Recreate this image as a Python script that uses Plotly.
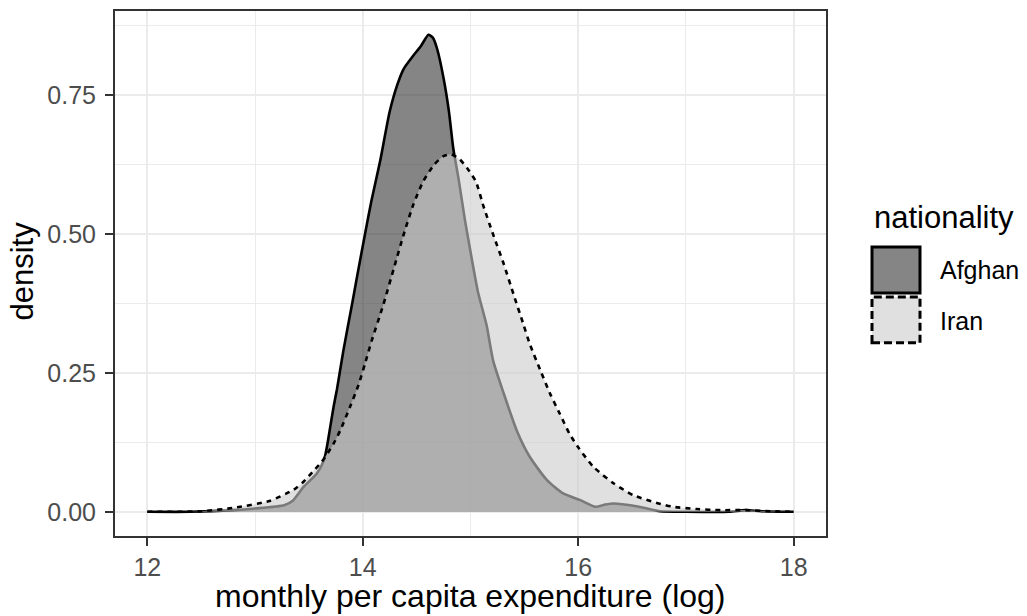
import plotly.graph_objects as go

# ---- data ----
groups = ["Afghan", "Iran"]

x_afghan = [12.00, 12.40, 12.80, 13.00, 13.27, 13.35, 13.45, 13.57, 13.64, 13.67,
            13.70, 13.73, 13.76, 13.79, 13.82, 13.90, 13.945, 14.02, 14.08, 14.16,
            14.25, 14.32, 14.38, 14.47, 14.54, 14.61, 14.65, 14.69, 14.75, 14.80,
            14.84, 14.89, 14.95, 15.01, 15.07, 15.15, 15.21, 15.31, 15.43, 15.55,
            15.71, 15.86, 16.02, 16.16, 16.25, 16.33, 16.54, 16.76, 17.00, 17.40,
            17.55, 17.70, 18.00]
d_afghan = [0.000, 0.000, 0.003, 0.006, 0.012, 0.020, 0.045, 0.068, 0.093, 0.120,
            0.155, 0.190, 0.220, 0.255, 0.290, 0.373, 0.421, 0.499, 0.559, 0.630,
            0.720, 0.768, 0.797, 0.821, 0.838, 0.858, 0.853, 0.833, 0.780, 0.720,
            0.654, 0.598, 0.523, 0.457, 0.395, 0.335, 0.272, 0.212, 0.146, 0.099,
            0.057, 0.033, 0.021, 0.009, 0.013, 0.015, 0.010, 0.001, 0.000, 0.000,
            0.003, 0.001, 0.000]

x_iran = [12.00, 12.50, 12.83, 13.14, 13.36, 13.45, 13.54, 13.62, 13.73, 13.79,
          13.88, 13.96, 14.02, 14.08, 14.19, 14.29, 14.38, 14.47, 14.56, 14.66,
          14.75, 14.82, 14.90, 14.97, 15.05, 15.12, 15.21, 15.31, 15.40, 15.49,
          15.55, 15.65, 15.74, 15.83, 15.92, 16.00, 16.14, 16.33, 16.51, 16.73,
          16.88, 17.10, 17.32, 17.56, 17.80, 18.00]
d_iran = [0.000, 0.001, 0.008, 0.020, 0.040, 0.054, 0.073, 0.090, 0.123, 0.146,
          0.188, 0.228, 0.266, 0.306, 0.372, 0.439, 0.499, 0.553, 0.594, 0.624,
          0.640, 0.643, 0.634, 0.618, 0.594, 0.550, 0.499, 0.445, 0.391, 0.338,
          0.302, 0.254, 0.212, 0.176, 0.140, 0.116, 0.081, 0.051, 0.030, 0.016,
          0.009, 0.005, 0.003, 0.003, 0.001, 0.000]

x_ticks = [12, 14, 16, 18]
x_tick_labels = ["12", "14", "16", "18"]
x_minor = [13, 15, 17]
y_ticks = [0, 0.25, 0.5, 0.75]
y_tick_labels = ["0.00", "0.25", "0.50", "0.75"]
y_minor = [0.125, 0.375, 0.625, 0.875]

x_title = "monthly per capita expenditure (log)"
y_title = "density"
legend_title = "nationality"

# ---- layout geometry (pixels) ----
W, H = 1027, 616
L, R, T, B = 115, 826, 9, 536
FONT = "Liberation Sans, Arial, Helvetica, sans-serif"


def px(x):
    return (x - L) / (R - L)


def py(y):
    return (B - y) / (B - T)


fills = ["rgba(51,51,51,0.6)", "rgba(204,204,204,0.6)"]
dashes = ["solid", "5px,5px"]

fig = go.Figure()
for name, xs, ds, fc, dsh in zip(groups, [x_afghan, x_iran], [d_afghan, d_iran], fills, dashes):
    fig.add_trace(go.Scatter(
        x=xs, y=ds, mode="lines", fill="tozeroy", fillcolor=fc,
        line=dict(color="black", width=2.6, dash=dsh, shape="spline", smoothing=0.6),
        name=name, showlegend=False, hoverinfo="skip"))

axis_common = dict(
    ticks="outside", ticklen=8, tickwidth=2, tickcolor="#333333",
    tickfont=dict(family=FONT, size=25, color="#4D4D4D"),
    showline=True, mirror=True, linecolor="#333333", linewidth=2,
    showgrid=True, gridcolor="#EBEBEB", gridwidth=2, zeroline=False,
)

fig.update_xaxes(range=[11.7, 18.3], tickvals=x_ticks, ticktext=x_tick_labels,
                 minor=dict(tickvals=x_minor, showgrid=True, gridcolor="#EBEBEB", gridwidth=1, ticks=""),
                 **axis_common)
fig.update_yaxes(range=[-0.0435, 0.9009], tickvals=y_ticks, ticktext=y_tick_labels,
                 minor=dict(tickvals=y_minor, showgrid=True, gridcolor="#EBEBEB", gridwidth=1, ticks=""),
                 ticklabelstandoff=4, **axis_common)

# legend drawn by hand (ggplot-style keys)
key_x0, key_x1 = 872, 920
fig.add_shape(type="rect", xref="paper", yref="paper",
              x0=px(key_x0), x1=px(key_x1), y0=py(292), y1=py(246),
              fillcolor=fills[0], line=dict(color="black", width=3))
fig.add_shape(type="rect", xref="paper", yref="paper",
              x0=px(key_x0), x1=px(key_x1), y0=py(342), y1=py(296),
              fillcolor=fills[1], line=dict(color="black", width=3, dash="8px,4px"))

annos = [
    dict(text=legend_title, x=px(872), y=py(216), xanchor="left", yanchor="middle",
         font=dict(family=FONT, size=31, color="black")),
    dict(text=groups[0], x=px(938), y=py(269), xanchor="left", yanchor="middle",
         font=dict(family=FONT, size=25, color="black")),
    dict(text=groups[1], x=px(938), y=py(320), xanchor="left", yanchor="middle",
         font=dict(family=FONT, size=25, color="black")),
    dict(text=x_title, x=px((L + R) / 2), y=py(596), xanchor="center", yanchor="middle",
         font=dict(family=FONT, size=32, color="black")),
    dict(text=y_title, x=px(22.5), y=py(270), xanchor="center", yanchor="middle",
         textangle=-90, font=dict(family=FONT, size=31, color="black")),
]
for a in annos:
    fig.add_annotation(xref="paper", yref="paper", showarrow=False, **a)

fig.update_layout(
    width=W, height=H, autosize=False,
    margin=dict(l=L, r=W - R, t=T, b=H - B, pad=0),
    paper_bgcolor="white", plot_bgcolor="white",
    font=dict(family=FONT),
)

fig.write_html("out.html")
